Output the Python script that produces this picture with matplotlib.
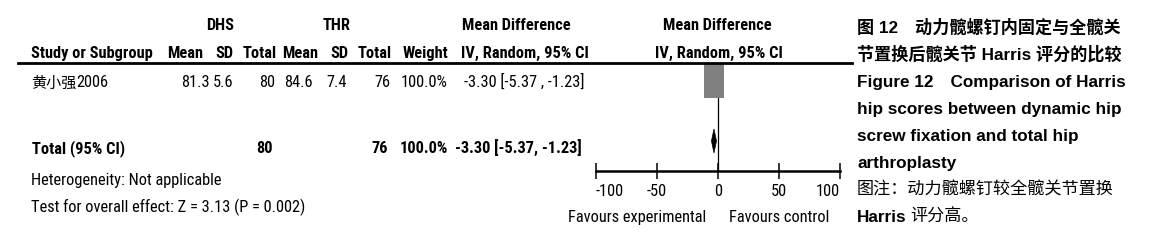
import os
import matplotlib.pyplot as plt
import matplotlib.font_manager as fm
from matplotlib.patches import Rectangle, Polygon
from matplotlib.lines import Line2D

# データ
study_names = ["黄小强"]
study_years = ["2006"]
dhs_mean = [81.3]
dhs_sd = [5.6]
dhs_n = [80]
thr_mean = [84.6]
thr_sd = [7.4]
thr_n = [76]
weights = [100.0]
md = [-3.30]
ci_lo = [-5.37]
ci_hi = [-1.23]

total_md = -3.30
total_lo = -5.37
total_hi = -1.23
total_n1 = 80
total_n2 = 76
total_weight = 100.0

xticks = [-100, -50, 0, 50, 100]

caption_lines = [
    "图 12\u3000动力髋螺钉内固定与全髋关",
    "节置换后髋关节 Harris 评分的比较",
    "Figure 12\u3000Comparison of Harris",
    "hip scores between dynamic hip",
    "screw fixation and total hip",
    "arthroplasty",
    "图注：动力髋螺钉较全髋关节置换",
]

# 画像サイズ (px)
W, H = 1155, 253
fig = plt.figure(figsize=(W / 100, H / 100), dpi=100)
renderer = fig.canvas.get_renderer()


def fx(x):
    return x / W


def fy(y):
    return 1 - y / H


# 細いフォントを探す
files = {os.path.basename(f.fname).lower(): f.fname for f in fm.fontManager.ttflist}
pairs = [
    ("liberationsansnarrow-regular.ttf", "liberationsansnarrow-bold.ttf"),
    ("arialn.ttf", "arialnb.ttf"),
    ("robotocondensed-regular.ttf", "robotocondensed-bold.ttf"),
    ("notosans-condensed.ttf", "notosans-condensedbold.ttf"),
    ("dejavusanscondensed.ttf", "dejavusanscondensed-bold.ttf"),
]
narrow = None
for reg, bld in pairs:
    if reg in files and bld in files:
        narrow = (files[reg], files[bld])
        break


def fp(bold=False, size=10):
    if narrow is not None:
        return fm.FontProperties(fname=narrow[1] if bold else narrow[0], size=size)
    return fm.FontProperties(family="Liberation Sans",
                             weight="bold" if bold else "normal", size=size)


# 幅から文字サイズを決める
probe = fig.text(0, 0, "Test for overall effect: Z = 3.13 (P = 0.002)", fontproperties=fp(False, 10))
FS = 10 * 248 / probe.get_window_extent(renderer).width * 1.1
probe.remove()
FS = min(FS, 12.5)


def txt(x, y, s, ha="left", bold=False):
    return fig.text(fx(x), fy(y), s, ha=ha, va="baseline", fontproperties=fp(bold, FS))


CAP = ["Liberation Sans", "Noto Sans CJK SC"]


def cap(x, y, s, bold=False, size=12.3):
    fig.text(fx(x), fy(y), s, ha="left", va="baseline", fontsize=size,
             fontweight="bold" if bold else "normal", family=CAP)


# ヘッダー
txt(220, 30, "DHS", ha="center", bold=True)
txt(337, 30, "THR", ha="center", bold=True)
txt(516, 30, "Mean Difference", ha="center", bold=True)
txt(717, 30, "Mean Difference", ha="center", bold=True)

txt(31, 58, "Study or Subgroup", bold=True)
for x, s in [(203, "Mean"), (233, "SD"), (277, "Total"), (318, "Mean"),
             (348, "SD"), (392, "Total"), (448, "Weight")]:
    txt(x, 58, s, ha="right", bold=True)
txt(525, 58, "IV, Random, 95% CI", ha="center", bold=True)
txt(719, 58, "IV, Random, 95% CI", ha="center", bold=True)

fig.add_artist(Line2D([fx(18), fx(852)], [fy(63.5), fy(63.5)],
                      color="black", lw=2.0, transform=fig.transFigure))

# 各研究
row_y = [87]
for i in range(len(study_names)):
    y = row_y[i]
    cj = fig.text(fx(31), fy(y + 0.5), study_names[i], ha="left", va="baseline",
                  fontsize=FS * 0.92, family="Noto Sans CJK SC")
    name_end = cj.get_window_extent(renderer).x1
    fig.text(name_end / W, fy(y), study_years[i], ha="left", va="baseline",
             fontproperties=fp(False, FS))
    txt(210, y, f"{dhs_mean[i]:.1f}", ha="right")
    txt(233, y, f"{dhs_sd[i]:.1f}", ha="right")
    txt(275, y, f"{dhs_n[i]}", ha="right")
    txt(313, y, f"{thr_mean[i]:.1f}", ha="right")
    txt(347, y, f"{thr_sd[i]:.1f}", ha="right")
    txt(390, y, f"{thr_n[i]}", ha="right")
    txt(448, y, f"{weights[i]:.1f}%", ha="right")
    txt(584, y, f"{md[i]:.2f} [{ci_lo[i]:.2f} , {ci_hi[i]:.2f}]", ha="right")

# 合計
ty = 153
txt(32, ty, "Total (95% CI)", bold=True)
txt(273, ty, f"{total_n1}", ha="right", bold=True)
txt(388, ty, f"{total_n2}", ha="right", bold=True)
txt(448, ty, f"{total_weight:.1f}%", ha="right", bold=True)
txt(582, ty, f"{total_md:.2f} [{total_lo:.2f}, {total_hi:.2f}]", ha="right", bold=True)

txt(31, 185, "Heterogeneity: Not applicable")
txt(31, 212, "Test for overall effect: Z = 3.13 (P = 0.002)")

# フォレストプロット
ax = fig.add_axes([fx(596), fy(172), (840 - 596) / W, (172 - 64) / H])
ax.set_xlim(-100, 100)
ax.set_ylim(172, 64)
ax.patch.set_visible(False)
for side in ["top", "left", "right"]:
    ax.spines[side].set_visible(False)
ax.spines["bottom"].set_linewidth(1.8)
ax.set_yticks([])
ax.set_xticks(xticks)
ax.set_xticklabels([str(v) for v in xticks], fontproperties=fp(False, FS))
ax.tick_params(axis="x", direction="inout", length=11, width=1.1, pad=3)
labels = ax.get_xticklabels()
labels[0].set_ha("left")
labels[-1].set_ha("right")

ax.axvline(0, color="black", lw=0.9, zorder=1)

box_w = 16.4
box_h = 35
for i in range(len(study_names)):
    y = 81.5
    ax.plot([ci_lo[i], ci_hi[i]], [y, y], color="black", lw=1, zorder=2)
    ax.add_patch(Rectangle((md[i] - box_w / 2, y - box_h / 2), box_w, box_h,
                           facecolor="#808080", edgecolor="none", zorder=3))

dy = 142
ax.add_patch(Polygon([[total_lo, dy], [total_md, dy - 12], [total_hi, dy], [total_md, dy + 12]],
                     closed=True, facecolor="black", edgecolor="black", lw=0.5, zorder=3))

txt(706, 222, "Favours experimental", ha="right")
txt(729, 222, "Favours control", ha="left")

# キャプション
cap_y = [33, 60, 87, 114, 141, 168, 195]
for i, line in enumerate(caption_lines):
    cap(857, cap_y[i], line, bold=(i < 6))
cap(857, 222, "Harris", bold=True)
cap(910, 222, "评分高。")

plt.savefig("out.png", dpi=100)
